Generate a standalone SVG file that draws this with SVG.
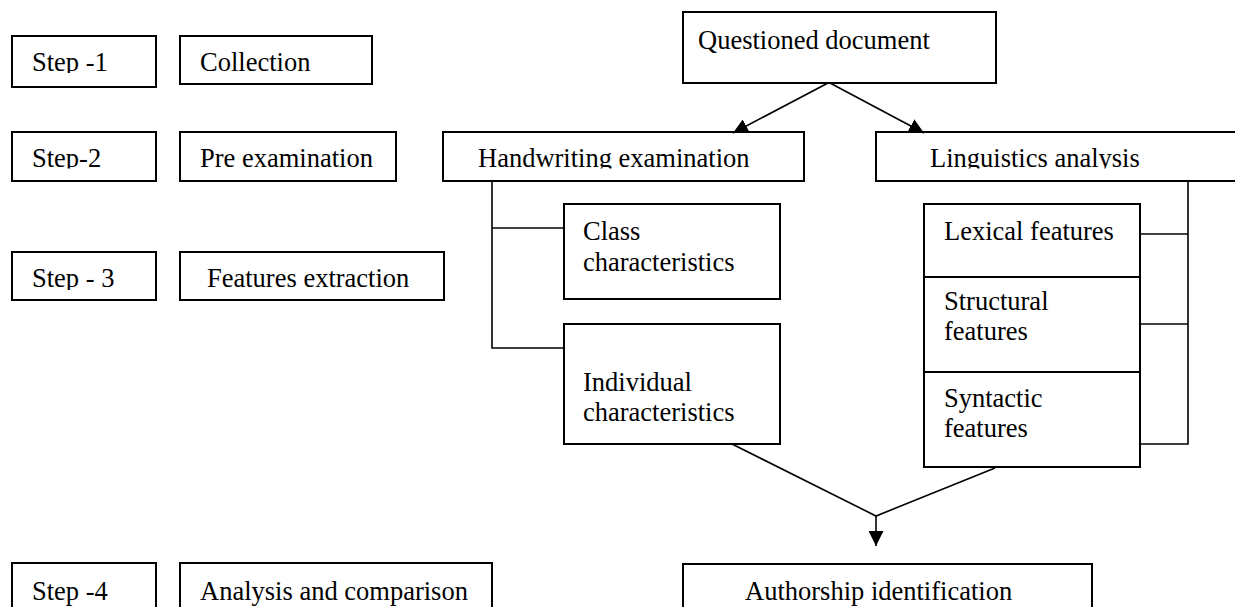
<svg xmlns="http://www.w3.org/2000/svg" width="1235" height="607" viewBox="0 0 1235 607">
<style>
.box{fill:#fff;stroke:#000;stroke-width:2}
.ln{fill:none;stroke:#000;stroke-width:1.6}
text{font-family:"Liberation Serif","Times New Roman",serif;font-size:26.5px;fill:#000}
</style>
<defs>
<marker id="ah" viewBox="0 0 15 15" refX="15" refY="7.5" markerWidth="15" markerHeight="15" markerUnits="userSpaceOnUse" orient="auto">
<path d="M0,0 L15,7.5 L0,15 z" fill="#000"/>
</marker>
<clipPath id="c1" clipPathUnits="userSpaceOnUse"><rect x="0" y="0" width="1235" height="73"/></clipPath>
<clipPath id="c2" clipPathUnits="userSpaceOnUse"><rect x="0" y="0" width="1235" height="168.5"/></clipPath>
<clipPath id="c3" clipPathUnits="userSpaceOnUse"><rect x="0" y="0" width="1235" height="290"/></clipPath>
</defs>
<rect width="1235" height="607" fill="#fff"/>
<g id="step1"><rect class="box" x="12" y="36" width="144" height="51"/><text x="32" y="71" clip-path="url(#c1)">Step -1</text></g>
<g id="collection"><rect class="box" x="180" y="36" width="192" height="48"/><text x="200" y="71" clip-path="url(#c1)">Collection</text></g>
<g id="step2"><rect class="box" x="12" y="132" width="144" height="49"/><text x="32" y="167" clip-path="url(#c2)">Step-2</text></g>
<g id="preexam"><rect class="box" x="180" y="132" width="216" height="49"/><text x="200" y="167" clip-path="url(#c2)">Pre examination</text></g>
<g id="step3"><rect class="box" x="12" y="252" width="144" height="48"/><text x="32" y="287" clip-path="url(#c3)">Step - 3</text></g>
<g id="features"><rect class="box" x="180" y="252" width="264" height="48"/><text x="207" y="287" clip-path="url(#c3)">Features extraction</text></g>
<g id="step4"><rect class="box" x="12" y="563" width="144" height="60"/><text x="32" y="600">Step -4</text></g>
<g id="analysis"><rect class="box" x="180" y="563" width="312" height="60"/><text x="200" y="600">Analysis and comparison</text></g>
<g id="questioned"><rect class="box" x="683" y="12" width="313" height="71"/><text x="698" y="49">Questioned document</text></g>
<g id="handwriting"><rect class="box" x="443" y="132" width="361" height="49"/><text x="478" y="167" clip-path="url(#c2)">Handwriting examination</text></g>
<g id="linguistics"><rect class="box" x="876" y="132" width="370" height="49"/><text x="930" y="167" clip-path="url(#c2)">Linguistics analysis</text></g>
<g id="class"><rect class="box" x="564" y="204" width="216" height="95"/><text x="583" y="240">Class</text><text x="583" y="271">characteristics</text></g>
<g id="individual"><rect class="box" x="564" y="324" width="216" height="120"/><text x="583" y="391">Individual</text><text x="583" y="421">characteristics</text></g>
<g id="lexical"><rect class="box" x="924" y="204" width="216" height="73"/><text x="944" y="240">Lexical features</text></g>
<g id="structural"><rect class="box" x="924" y="277" width="216" height="95"/><text x="944" y="310">Structural</text><text x="944" y="340">features</text></g>
<g id="syntactic"><rect class="box" x="924" y="372" width="216" height="95"/><text x="944" y="407">Syntactic</text><text x="944" y="437">features</text></g>
<g id="authorship"><rect class="box" x="683" y="564" width="409" height="60"/><text x="745" y="600">Authorship identification</text></g>
<g id="connectors">
<line class="ln" x1="828" y1="83" x2="733" y2="133" marker-end="url(#ah)"/>
<line class="ln" x1="830" y1="83" x2="924" y2="133" marker-end="url(#ah)"/>
<polyline class="ln" points="492,181 492,348 564,348"/>
<line class="ln" x1="492" y1="228" x2="564" y2="228"/>
<polyline class="ln" points="1188,181 1188,444 1140,444"/>
<line class="ln" x1="1140" y1="234" x2="1188" y2="234"/>
<line class="ln" x1="1140" y1="324" x2="1188" y2="324"/>
<polyline class="ln" points="732,444 876,516 995,468"/>
<line class="ln" x1="876" y1="516" x2="876" y2="546" marker-end="url(#ah)"/>
</g>
</svg>
